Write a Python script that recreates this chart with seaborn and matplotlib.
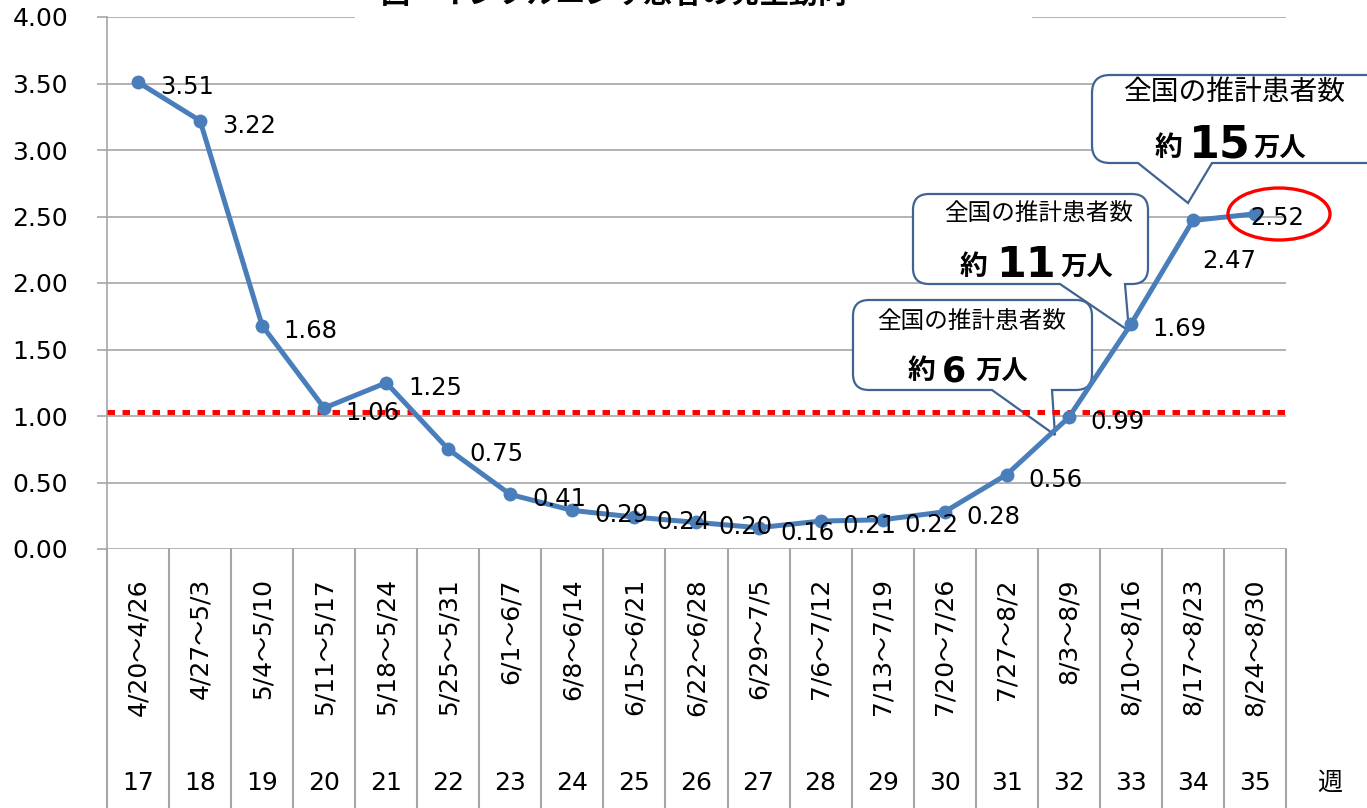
import numpy as np
import pandas as pd
import seaborn as sns
import matplotlib
matplotlib.use("Agg")
import matplotlib.pyplot as plt
from matplotlib.path import Path
from matplotlib.patches import PathPatch, Rectangle, Ellipse
from matplotlib import transforms

# ---------------- data ----------------
weeks = [17, 18, 19, 20, 21, 22, 23, 24, 25, 26, 27, 28, 29, 30, 31, 32, 33, 34, 35]
periods = ['4/20～4/26', '4/27～5/3', '5/4～5/10', '5/11～5/17', '5/18～5/24',
           '5/25～5/31', '6/1～6/7', '6/8～6/14', '6/15～6/21', '6/22～6/28',
           '6/29～7/5', '7/6～7/12', '7/13～7/19', '7/20～7/26', '7/27～8/2',
           '8/3～8/9', '8/10～8/16', '8/17～8/23', '8/24～8/30']
values = [3.51, 3.22, 1.68, 1.06, 1.25, 0.75, 0.41, 0.29, 0.24, 0.20,
          0.16, 0.21, 0.22, 0.28, 0.56, 0.99, 1.69, 2.47, 2.52]
threshold = 1.03
y_ticks = [0.0, 0.5, 1.0, 1.5, 2.0, 2.5, 3.0, 3.5, 4.0]
title_text = '図　インフルエンザ患者の発生動向'
callout_head = '全国の推計患者数'
callout_counts = ['6', '11', '15']
week_unit = '週'

# ---------------- style ----------------
sns.set_theme(style="white")
NUM = ['DejaVu Sans', 'Noto Sans CJK JP']
JP = ['Noto Sans CJK JP', 'DejaVu Sans']
plt.rcParams['font.family'] = NUM

W, H = 1367, 808
fig = plt.figure(figsize=(W / 100, H / 100), dpi=100)
fig.patch.set_facecolor('white')
ax = fig.add_axes([107 / W, 1 - 549 / H, (1286 - 107) / W, (549 - 17) / H])
ax.set_facecolor('white')

# pixel transform (y downward)
pix = transforms.Affine2D().scale(1 / W, -1 / H).translate(0, 1) + fig.transFigure
xpix = transforms.blended_transform_factory(ax.transData, pix)

df = pd.DataFrame({'i': np.arange(len(values)), 'v': values})
GRID = '#A6A6A6'
LINE = '#4A7EBB'

ax.set_axisbelow(True)
ax.set_xlim(-0.5, len(values) - 0.5)
ax.set_ylim(0, 4.0)
ax.set_yticks(y_ticks)
ax.set_yticklabels([f'{t:.2f}' for t in y_ticks], fontsize=18, color='black')
ax.set_xticks([])
ax.yaxis.grid(True, color=GRID, linewidth=1.2)
for s in ['top', 'right', 'bottom']:
    ax.spines[s].set_visible(False)
ax.spines['left'].set_color(GRID)
ax.spines['left'].set_linewidth(1.2)
ax.tick_params(axis='y', which='both', left=True, length=7, width=1.2,
               color=GRID, pad=21, direction='out')

# threshold line
ax.axhline(threshold, color='#FF0000', linewidth=3.6,
           linestyle=(0, (1.5, 1.5)), zorder=3)

# main series
sns.lineplot(data=df, x='i', y='v', ax=ax, color=LINE, linewidth=3.6,
             marker='o', markersize=10, markeredgewidth=0, zorder=4)
ax.set_xlabel('')
ax.set_ylabel('')

# data labels
offsets = {17: (26, -29), 18: (16, -3)}
for i, v in enumerate(values):
    dx, dy = offsets.get(i, (35, -3.6))
    ax.annotate(f'{v:.2f}', xy=(i, v), xytext=(dx, dy), textcoords='offset points',
                ha='center', va='center', fontsize=17.5, color='black', zorder=6)

# category area
for k in range(len(values) + 1):
    ax.plot([k - 0.5, k - 0.5], [549, 810], transform=xpix, color=GRID,
            linewidth=1.5, clip_on=False, zorder=1)
for i, (p, w) in enumerate(zip(periods, weeks)):
    ax.text(i, 578, p, transform=xpix, rotation=90, ha='center', va='top',
            fontsize=18, family=NUM, color='black')
    ax.text(i, 783, str(w), transform=xpix, ha='center', va='center',
            fontsize=18, family=NUM, color='black')
fig.text(1330 / W, 1 - 783 / H, week_unit, ha='center', va='center',
         fontsize=18, family=JP, color='black')

# callouts
def callout_path(x0, y0, x1, y1, r, bx0, bx1, tip):
    verts = [(x0 + r, y0), (x1 - r, y0), (x1, y0), (x1, y0 + r), (x1, y1 - r),
             (x1, y1), (x1 - r, y1), (bx1, y1), tip, (bx0, y1), (x0 + r, y1),
             (x0, y1), (x0, y1 - r), (x0, y0 + r), (x0, y0), (x0 + r, y0), (x0 + r, y0)]
    codes = [Path.MOVETO, Path.LINETO, Path.CURVE3, Path.CURVE3, Path.LINETO,
             Path.CURVE3, Path.CURVE3, Path.LINETO, Path.LINETO, Path.LINETO,
             Path.LINETO, Path.CURVE3, Path.CURVE3, Path.LINETO, Path.CURVE3,
             Path.CURVE3, Path.CLOSEPOLY]
    return Path(verts, codes)

EDGE = '#3F6392'
boxes = [
    dict(geom=(913, 194, 1148, 284, 16, 1060, 1125, (1129, 331)),
         head=(1039, 213, 17), num=callout_counts[1], nfs=31,
         pos=(960, 996, 1060), base=277),
    dict(geom=(1092, 75, 1385, 163, 18, 1138, 1212, (1188, 203)),
         head=(1235, 92, 20), num=callout_counts[2], nfs=32,
         pos=(1155, 1189, 1253), base=158),
    dict(geom=(853, 300, 1092, 390, 16, 992, 1052, (1055, 435)),
         head=(972, 321, 17), num=callout_counts[0], nfs=25,
         pos=(908, 942, 975), base=381),
]
for b in boxes:
    patch = PathPatch(callout_path(*b['geom']), facecolor='white', edgecolor=EDGE,
                      linewidth=1.6, transform=pix, zorder=2, clip_on=False)
    ax.add_patch(patch)
    hx, hy, hfs = b['head']
    ax.text(hx, hy, callout_head, transform=pix, ha='center', va='center',
            fontsize=hfs, family=JP, color='black', zorder=2.5)
    x_a, x_n, x_m = b['pos']
    ax.text(x_a, b['base'] - 2, '約', transform=pix, ha='left', va='baseline',
            fontsize=20, family=JP, weight='bold', color='black', zorder=2.5)
    ax.text(x_n, b['base'], b['num'], transform=pix, ha='left', va='baseline',
            fontsize=b['nfs'], family=NUM, weight='bold', color='black', zorder=2.5)
    ax.text(x_m, b['base'] - 2, '万人', transform=pix, ha='left', va='baseline',
            fontsize=19, family=JP, weight='bold', color='black', zorder=2.5)

# red ellipse around last value
ax.add_patch(Ellipse((1279, 214), 102, 52, transform=pix, facecolor='none',
                     edgecolor='#FF0000', linewidth=2.4, zorder=7, clip_on=False))

# title (cut off at the top, as in the original)
fig.patches.append(Rectangle((355 / W, 1 - 26 / H), (1032 - 355) / W, 26 / H,
                             transform=fig.transFigure, facecolor='white',
                             edgecolor='none', zorder=5))
fig.text(614 / W, 1 - 3 / H, title_text, ha='center', va='baseline',
         fontsize=21, family=JP, weight='bold', color='black', zorder=6)

fig.savefig('out.png', dpi=100)
